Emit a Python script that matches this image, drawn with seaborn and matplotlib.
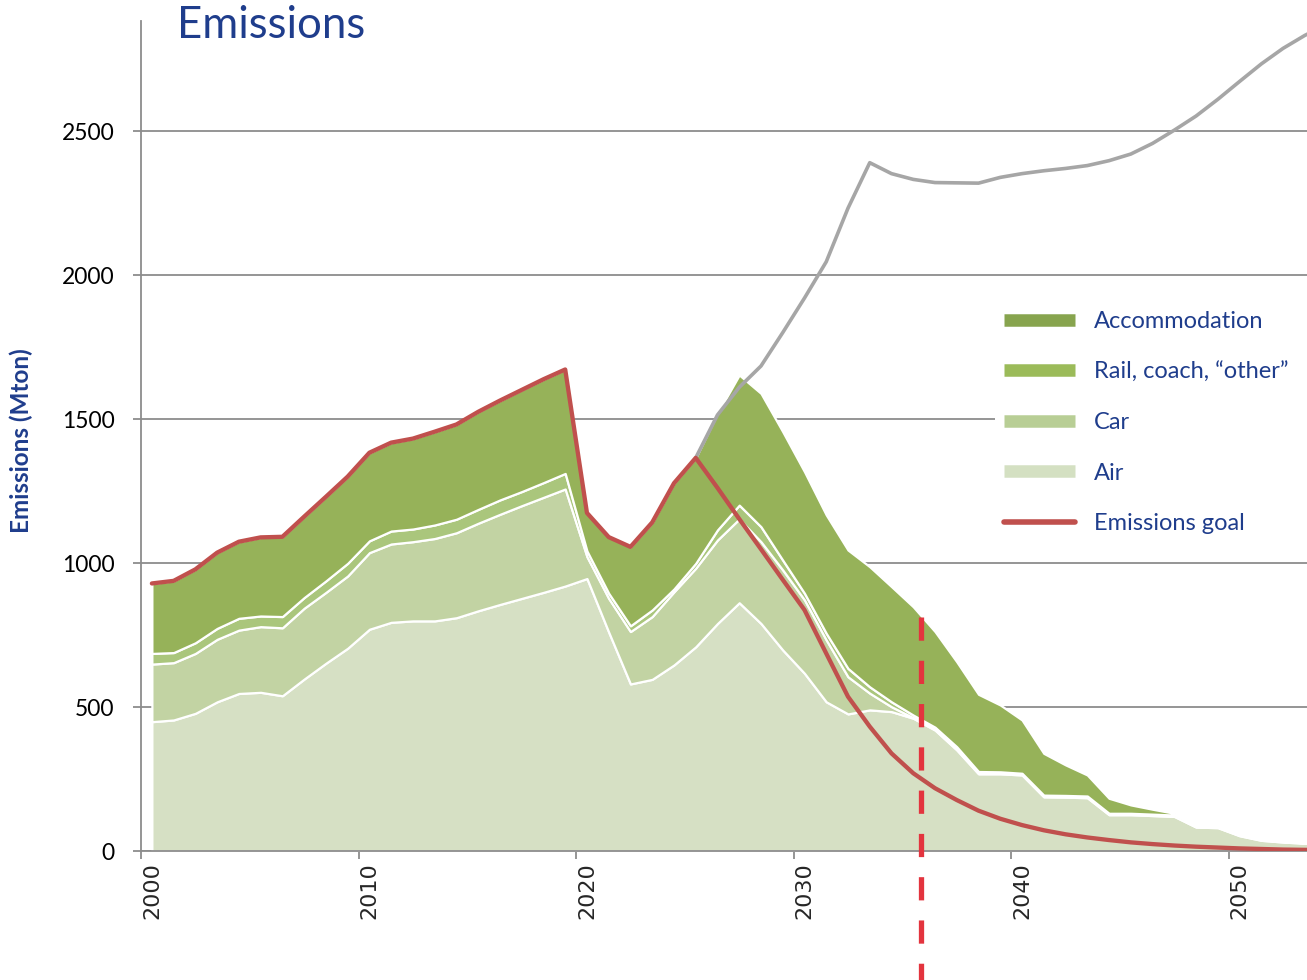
import numpy as np
import pandas as pd
import matplotlib
matplotlib.use("Agg")
import matplotlib.pyplot as plt
from matplotlib.lines import Line2D
from matplotlib.patches import Rectangle
import seaborn as sns

sns.set_theme(style="white")
plt.rcParams["font.family"] = ["Lato", "DejaVu Sans"]

# ---- data (Mton CO2) ----
years = list(range(2000, 2055))

air = [449, 455, 478, 518, 547, 551, 539, 597, 652, 704,
       770, 794, 799, 799, 810, 834, 856, 877, 898, 920,
       946, 760, 580, 596, 646, 709, 790, 862, 790, 698,
       617, 518, 476, 490, 484, 461, 420, 351, 268, 268,
       264, 188, 187, 185, 126, 126, 123, 120, 83, 81,
       53, 37, 31, 27, 24]
car = [200, 199, 208, 217, 220, 228, 236, 246, 246, 251,
       266, 272, 275, 286, 295, 304, 313, 322, 330, 337,
       76, 117, 182, 218, 254, 273, 290, 291, 284, 278,
       255, 215, 129, 58, 17, 2, 5, 7, 5, 4,
       4, 4, 4, 4, 3, 3, 3, 3, 2, 2,
       2, 2, 2, 1, 1]
rail = [37, 35, 37, 38, 41, 37, 39, 37, 40, 44,
        41, 45, 44, 47, 47, 48, 50, 49, 51, 54,
        20, 18, 20, 23, 10, 17, 35, 48, 52, 34,
        23, 23, 29, 22, 17, 9, 5, 4, 3, 3,
        2, 2, 2, 2, 2, 2, 2, 2, 2, 2,
        1, 1, 1, 1, 1]
accommodation = [243, 249, 255, 263, 266, 273, 277, 281, 292, 301,
                 306, 307, 314, 324, 329, 339, 345, 353, 359, 361,
                 132, 195, 274, 304, 367, 366, 405, 452, 463, 446,
                 422, 411, 411, 417, 400, 376, 332, 295, 268, 232,
                 185, 145, 106, 73, 52, 29, 17, 6, 3, 2,
                 5, 4, 4, 3, 3]

# business-as-usual projection (grey line)
bau_years = list(range(2025, 2055))
bau = [1365, 1514, 1610, 1684, 1800, 1920, 2046, 2232, 2390, 2352,
       2332, 2321, 2320, 2319, 2339, 2352, 2362, 2370, 2380, 2397,
       2420, 2457, 2503, 2552, 2610, 2672, 2733, 2787, 2832, 2870]

# emissions goal (red line): history, then reduction pathway
goal = [929, 938, 978, 1036, 1074, 1089, 1091, 1161, 1230, 1300,
        1383, 1418, 1432, 1456, 1481, 1525, 1564, 1601, 1638, 1672,
        1174, 1090, 1056, 1141, 1277, 1365, 1261, 1153, 1048, 942,
        837, 686, 536, 432, 339, 270, 218, 177, 140, 112,
        90, 72, 58, 47, 38, 30, 24, 19, 15, 12,
        9, 7, 5, 4, 3]

deadline_year = 2035.36
deadline_top = 813

layer_names = ["Air", "Car", "Rail, coach, \u201cother\u201d", "Accommodation"]
area_colors = ["#d6e0c4", "#c2d3a3", "#aac67c", "#96b259"]
legend_colors = ["#d4e0c2", "#b8ce95", "#9bbb59", "#87a44e"]
RED = "#c0504d"
GREY = "#a6a6a6"
NAVY = "#1f3d8c"

df = pd.DataFrame({"year": years, "air": air, "car": car, "rail": rail,
                   "accommodation": accommodation, "goal": goal})
df["x"] = df["year"] + 0.5  # category centres, as in the spreadsheet chart
bau_df = pd.DataFrame({"year": bau_years, "bau": bau})
bau_df["x"] = bau_df["year"] + 0.5

W, H = 1307, 980
fig = plt.figure(figsize=(W / 100, H / 100), dpi=100)
ax = fig.add_axes([141 / W, 1 - 851 / H, 1 - 141 / W, (851 - 21) / H])

ax.stackplot(df["x"], df["air"], df["car"], df["rail"], df["accommodation"],
             colors=area_colors, edgecolor="white", linewidth=1.6, zorder=2)

sns.lineplot(data=bau_df, x="x", y="bau", ax=ax, color=GREY, linewidth=2.6,
             sort=False, estimator=None, zorder=3)
sns.lineplot(data=df, x="x", y="goal", ax=ax, color=RED, linewidth=3.1,
             sort=False, estimator=None, zorder=4)

ax.plot([deadline_year + 0.5] * 2, [deadline_top, -448], color="#e3343e",
        linewidth=3.8, dashes=(4.4, 3.8), clip_on=False, zorder=5)

ax.set_xlim(2000, 2053.6)
ax.set_ylim(0, 2882)

ax.set_yticks([0, 500, 1000, 1500, 2000, 2500])
ax.yaxis.grid(True, color="#8c8c8c", linewidth=1.3, zorder=0)
ax.set_axisbelow(True)
ax.tick_params(axis="y", left=True, length=6, width=1.3, color="#8c8c8c",
               labelsize=16.5, pad=13, labelcolor="black")

decades = [2000, 2010, 2020, 2030, 2040, 2050]
ax.set_xticks(decades)
ax.set_xticklabels([])
ax.set_xticks([d + 0.5 for d in decades], minor=True)
ax.set_xticklabels([str(d) for d in decades], minor=True, rotation=90,
                   fontfamily="DejaVu Sans", fontsize=16)
ax.tick_params(axis="x", which="major", bottom=True, length=6, width=1.3,
               color="#8c8c8c")
ax.tick_params(axis="x", which="minor", bottom=True, length=0, pad=8)

for side in ["top", "right"]:
    ax.spines[side].set_visible(False)
for side in ["left", "bottom"]:
    ax.spines[side].set_color("#8c8c8c")
    ax.spines[side].set_linewidth(1.3)
ax.set_xlabel("")
ax.set_ylabel("")

fig.text(177 / W, 1 - 5 / H, "Emissions", color=NAVY, fontsize=31.5,
         ha="left", va="top")
fig.text(21 / W, 1 - 441 / H, "Emissions (Mton)", color=NAVY, fontsize=17.5,
         fontweight="bold", rotation=90, ha="center", va="center")

# white legend box, reaching the right edge (hides the gridline behind it)
ax.add_patch(Rectangle((995 / W, 1 - 545 / H), (W - 995) / W, 243 / H,
                       transform=fig.transFigure, facecolor="white",
                       edgecolor="none", zorder=5.5, clip_on=False))

handles = [Line2D([], [], color=legend_colors[i], linewidth=9,
                  solid_capstyle="butt") for i in (3, 2, 1, 0)]
handles.append(Line2D([], [], color=RED, linewidth=4,
                      solid_capstyle="round"))
labels = [layer_names[i] for i in (3, 2, 1, 0)] + ["Emissions goal"]
leg = ax.legend(handles, labels, loc="upper left",
                bbox_to_anchor=(1004 / W, 1 - 311 / H),
                bbox_transform=fig.transFigure, frameon=False,
                fontsize=17, labelcolor=NAVY,
                handlelength=3.0, handletextpad=0.8, labelspacing=1.25,
                borderpad=0, borderaxespad=0)
leg.set_zorder(6)

fig.savefig("out.png", dpi=100)
